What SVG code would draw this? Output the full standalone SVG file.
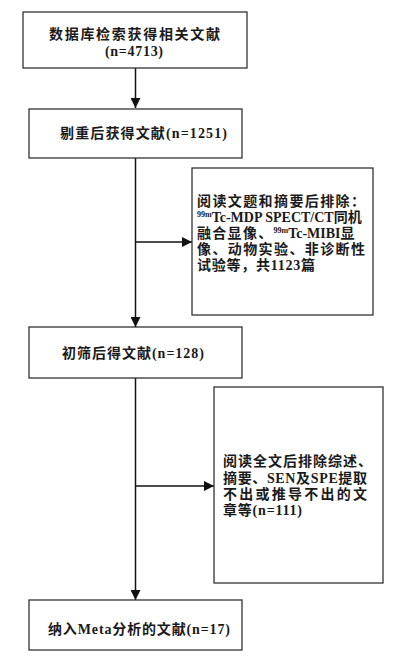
<svg xmlns="http://www.w3.org/2000/svg" width="406" height="672" viewBox="0 0 406 672">
<defs>
<style>
.box{fill:#fff;stroke:#333;stroke-width:1.3}
.t{font-family:"Liberation Serif","Noto Sans CJK SC",serif;font-weight:bold;font-size:14px;fill:#1a1a1a}
.sup{font-size:8px}
.ln{stroke:#111;stroke-width:1.5;fill:none}
</style>
<marker id="ah" viewBox="0 0 10 10" refX="10" refY="5" markerWidth="10" markerHeight="10" markerUnits="userSpaceOnUse" orient="auto">
<path d="M0,0 L10,5 L0,10 Z" fill="#111"/>
</marker>
</defs>
<rect width="406" height="672" fill="#fff"/>
<g id="connectors">
<line class="ln" x1="135.5" y1="68" x2="135.5" y2="108" marker-end="url(#ah)"/>
<line class="ln" x1="135.5" y1="158" x2="135.5" y2="327" marker-end="url(#ah)"/>
<line class="ln" x1="135.5" y1="242" x2="192" y2="242" marker-end="url(#ah)"/>
<line class="ln" x1="135.5" y1="378" x2="135.5" y2="600" marker-end="url(#ah)"/>
<line class="ln" x1="135.5" y1="486" x2="214" y2="486" marker-end="url(#ah)"/>
</g>
<g id="n1">
<rect class="box" x="23" y="12" width="224" height="56"/>
<text class="t" x="49" y="39" textLength="171" lengthAdjust="spacing">数据库检索获得相关文献</text>
<text class="t" x="105" y="56" textLength="58" lengthAdjust="spacing">(n=4713)</text>
</g>
<g id="n2">
<rect class="box" x="29" y="109" width="213" height="49"/>
<text class="t" x="60" y="138" textLength="167" lengthAdjust="spacing">剔重后获得文献(n=1251)</text>
</g>
<g id="n3">
<rect class="box" x="192" y="168" width="181" height="147"/>
<text class="t" x="197" y="206" textLength="168" lengthAdjust="spacing">阅读文题和摘要后排除：</text>
<text class="t" x="197" y="222"><tspan class="sup" dy="-5">99m</tspan><tspan dy="5">Tc-MDP SPECT/CT同机</tspan></text>
<text class="t" x="197" y="238" letter-spacing="1.3">融合显像、<tspan class="sup" dy="-5" letter-spacing="0">99m</tspan><tspan dy="5" letter-spacing="0">Tc-MIBI显</tspan></text>
<text class="t" x="197" y="254" textLength="168" lengthAdjust="spacing">像、动物实验、非诊断性</text>
<text class="t" x="197" y="270" textLength="118" lengthAdjust="spacing">试验等，共1123篇</text>
</g>
<g id="n4">
<rect class="box" x="29" y="327" width="213" height="51"/>
<text class="t" x="62" y="358" textLength="142" lengthAdjust="spacing">初筛后得文献(n=128)</text>
</g>
<g id="n5">
<rect class="box" x="214" y="387" width="169" height="196"/>
<text class="t" x="223" y="466" textLength="149" lengthAdjust="spacing">阅读全文后排除综述、</text>
<text class="t" x="223" y="483" textLength="144" lengthAdjust="spacing">摘要、SEN及SPE提取</text>
<text class="t" x="223" y="499" textLength="144" lengthAdjust="spacing">不出或推导不出的文</text>
<text class="t" x="223" y="515" textLength="79" lengthAdjust="spacing">章等(n=111)</text>
</g>
<g id="n6">
<rect class="box" x="29" y="600" width="213" height="50"/>
<text class="t" x="48" y="634" textLength="182" lengthAdjust="spacing">纳入Meta分析的文献(n=17)</text>
</g>
</svg>
